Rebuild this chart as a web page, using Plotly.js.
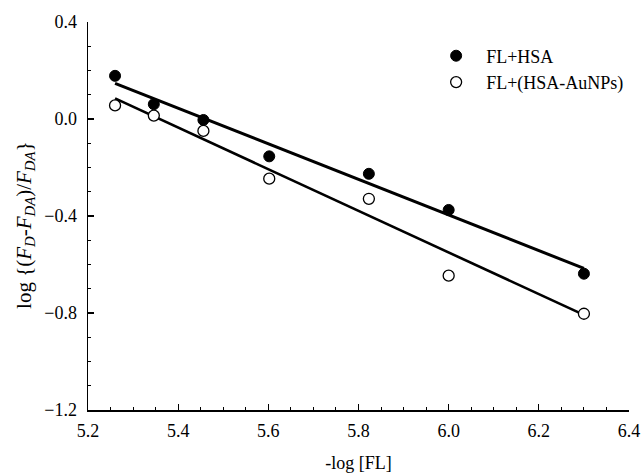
<!DOCTYPE html>
<html>
<head>
<meta charset="utf-8">
<script src="https://cdn.plot.ly/plotly-3.0.1.min.js"></script>
<style>html,body{margin:0;padding:0;background:#fff;}#chart{width:643px;height:473px;}</style>
</head>
<body>
<div id="chart"></div>
<script>
// Data
const negLogFL = [5.26, 5.346, 5.456, 5.602, 5.823, 6.0, 6.3];
const flHSA = [0.178, 0.061, -0.004, -0.154, -0.226, -0.375, -0.638];
const flHSAAuNPs = [0.056, 0.014, -0.049, -0.246, -0.329, -0.646, -0.803];
// Fitted straight lines (endpoints)
const fitX = [5.26, 6.3];
const fitHSA = [0.147, -0.616];
const fitHSAAuNPs = [0.085, -0.808];
const seriesNames = ["FL+HSA", "FL+(HSA-AuNPs)"];

const font = {family: "Liberation Serif", size: 18, color: "#000"};

const traces = [
  {x: fitX, y: fitHSA, mode: "lines", line: {color: "#000", width: 3}, showlegend: false, hoverinfo: "skip"},
  {x: fitX, y: fitHSAAuNPs, mode: "lines", line: {color: "#000", width: 2.6}, showlegend: false, hoverinfo: "skip"},
  {x: negLogFL, y: flHSA, mode: "markers", name: seriesNames[0],
   marker: {symbol: "circle", size: 11, color: "#000", line: {color: "#000", width: 1}}},
  {x: negLogFL, y: flHSAAuNPs, mode: "markers", name: seriesNames[1],
   marker: {symbol: "circle", size: 11, color: "#fff", line: {color: "#000", width: 1.3}}}
];

const layout = {
  width: 643, height: 473,
  margin: {l: 88, r: 14, t: 22, b: 63},
  paper_bgcolor: "#fff", plot_bgcolor: "#fff",
  font: font,
  showlegend: true,
  legend: {x: 0.625, y: 0.96, xanchor: "left", yanchor: "top", bgcolor: "rgba(0,0,0,0)",
           font: font, itemwidth: 50, tracegroupgap: 0},
  xaxis: {
    range: [5.2, 6.4], dtick: 0.2, tick0: 5.2, tickformat: ".1f",
    showgrid: false, zeroline: false, showline: true, linecolor: "#000", linewidth: 1.5,
    ticks: "inside", ticklen: 6, tickwidth: 1.2, tickcolor: "#000",
    minor: {dtick: 0.05, ticks: "inside", ticklen: 3, tickwidth: 1, tickcolor: "#000", showgrid: false},
    tickfont: font, ticklabelstandoff: 4,
    title: {text: "-log [FL]", font: font, standoff: 18},
    fixedrange: true
  },
  yaxis: {
    range: [-1.2, 0.4], dtick: 0.4, tick0: -1.2, tickformat: ".1f",
    showgrid: false, zeroline: false, showline: true, linecolor: "#000", linewidth: 1.5,
    ticks: "inside", ticklen: 6, tickwidth: 1.2, tickcolor: "#000",
    minor: {dtick: 0.1, ticks: "inside", ticklen: 3, tickwidth: 1, tickcolor: "#000", showgrid: false},
    tickfont: font, ticklabelstandoff: 6,
    fixedrange: true
  },
  annotations: [{
    xref: "paper", yref: "paper", x: -0.1165, y: 0.477, xanchor: "center", yanchor: "middle",
    textangle: -90, showarrow: false, font: {family: "Liberation Serif", size: 21, color: "#000"},
    text: "log {(<i>F</i><sub><i>D</i></sub>-<i>F</i><sub><i>DA</i></sub>)/<i>F</i><sub><i>DA</i></sub>}"
  }]
};

Plotly.newPlot("chart", traces, layout, {staticPlot: true, displayModeBar: false});
</script>
</body>
</html>
